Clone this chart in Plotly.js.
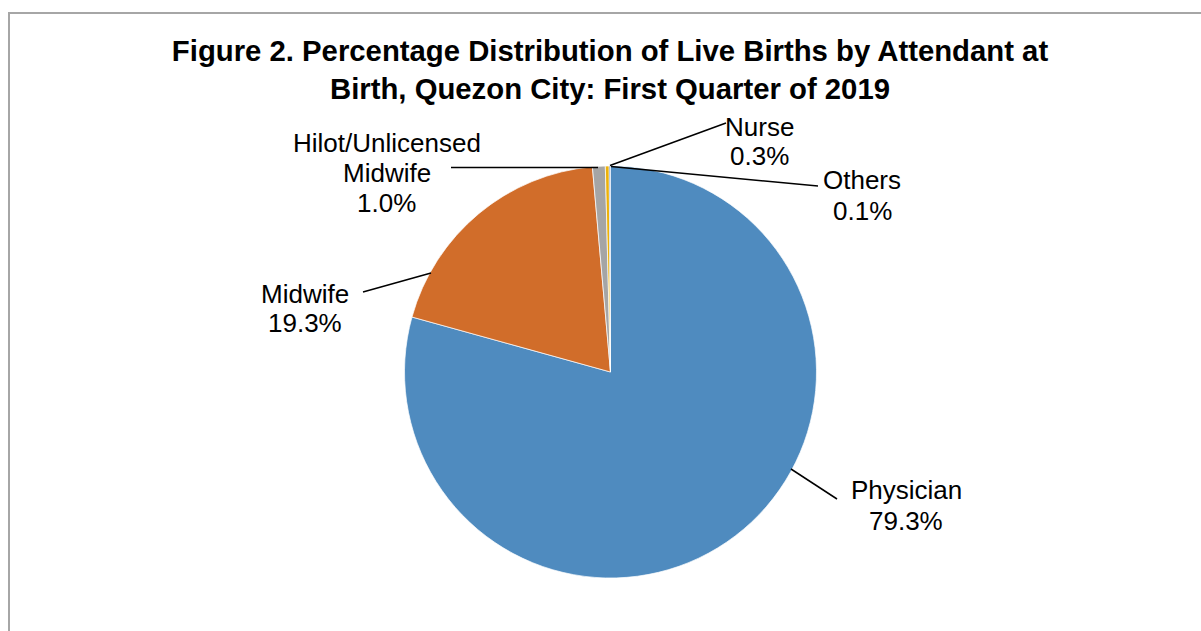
<!DOCTYPE html>
<html>
<head>
<meta charset="utf-8">
<script src="https://cdn.plot.ly/plotly-3.0.1.min.js"></script>
<style>
  html, body { margin: 0; padding: 0; background: #ffffff; }
  #chart { width: 1201px; height: 631px; }
</style>
</head>
<body>
<div id="chart"></div>
<script>
// ---- data ----
const categories = ['Physician', 'Midwife', 'Hilot/Unlicensed Midwife', 'Nurse', 'Others'];
const shares = [79.3, 19.3, 1.0, 0.3, 0.1];
const labelLines = [['Physician'], ['Midwife'], ['Hilot/Unlicensed', 'Midwife'], ['Nurse'], ['Others']];
const sliceColors = ['#4F8BBF', '#D16D2A', '#A5A5A5', '#EDB20A', '#3E6DB3'];
const titleText = 'Figure 2. Percentage Distribution of Live Births by Attendant at<br>Birth, Quezon City: First Quarter of 2019';

// ---- layout helpers (pixel -> paper) ----
const W = 1201, H = 631;
const px = x => x / W;
const py = y => 1 - y / H;

// label placement (pixels): centre x, first baseline, line step; leader line endpoints
const labelPlace = [
  { cx: 906, base: 499, step: 31, line: [791, 469, 837, 499] },
  { cx: 305, base: 302.5, step: 29.5, line: [431, 273, 363, 292] },
  { cx: 386.5, base: 152, step: 30, line: [598, 167.5, 451, 167.5] },
  { cx: 759.5, base: 136, step: 29, line: [610, 165.5, 726, 123] },
  { cx: 862, base: 189.5, step: 30.5, line: [611, 166.5, 818, 186] }
];

const labelFont = { family: 'Arial, "Liberation Sans", sans-serif', size: 26, color: '#000000' };

const annotations = [];
const shapes = [];
categories.forEach((c, i) => {
  const lines = labelLines[i].concat([shares[i].toFixed(1) + '%']);
  const p = labelPlace[i];
  lines.forEach((t, k) => {
    annotations.push({
      xref: 'paper', yref: 'paper',
      x: px(p.cx), y: py(p.base + k * p.step - 9),
      xanchor: 'center', yanchor: 'middle',
      text: t, showarrow: false, font: labelFont
    });
  });
  shapes.push({
    type: 'line', xref: 'paper', yref: 'paper',
    x0: px(p.line[0]), y0: py(p.line[1]), x1: px(p.line[2]), y1: py(p.line[3]),
    line: { color: '#000000', width: 1.5 }
  });
});

// chart frame (left and top edges visible)
shapes.push({
  type: 'rect', xref: 'paper', yref: 'paper',
  x0: px(9), y0: py(13), x1: 1.2, y1: -0.2,
  line: { color: '#A6A6A6', width: 2 }, fillcolor: 'rgba(0,0,0,0)', layer: 'below'
});

const trace = {
  type: 'pie',
  labels: categories,
  values: shares,
  sort: false,
  direction: 'clockwise',
  rotation: 0,
  textinfo: 'none',
  hoverinfo: 'label+percent',
  marker: { colors: sliceColors, line: { color: 'rgba(255,255,255,0.7)', width: 1 } },
  domain: { x: [px(404.5), px(816.5)], y: [py(578), py(166)] },
  showlegend: false
};

const layout = {
  width: W, height: H,
  margin: { l: 0, r: 0, t: 0, b: 0 },
  paper_bgcolor: '#ffffff',
  plot_bgcolor: '#ffffff',
  showlegend: false,
  title: {
    text: '<b>' + titleText + '</b>',
    font: { family: 'Arial, "Liberation Sans", sans-serif', size: 29.3, color: '#000000' },
    x: px(610), xanchor: 'center',
    y: py(61), yanchor: 'top',
    xref: 'paper', yref: 'container'
  },
  annotations: annotations,
  shapes: shapes
};

Plotly.newPlot('chart', [trace], layout, { displayModeBar: false, staticPlot: true });
</script>
</body>
</html>
